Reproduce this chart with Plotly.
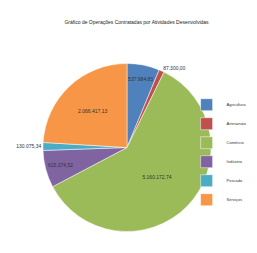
import plotly.graph_objects as go

categories = ["Agricultura", "Artesanato", "Comércio", "Indústria", "Pescado", "Serviços"]
values = [537984.83, 87300.00, 5160172.74, 615374.52, 130075.34, 2066417.13]
text_labels = ["537.984,83", "87.300,00", "5.160.172,74", "615.374,52", "130.075,34", "2.066.417,13"]
colors = ["#4F81BD", "#C0504D", "#9BBB59", "#8064A2", "#4BACC6", "#F79646"]
positions = ["inside", "outside", "inside", "inside", "outside", "inside"]

fig = go.Figure(go.Pie(
    labels=categories,
    values=values,
    text=text_labels,
    textinfo="text",
    textposition=positions,
    insidetextorientation="horizontal",
    sort=False,
    direction="clockwise",
    rotation=0,
    marker=dict(colors=colors, line=dict(color="white", width=0.5)),
    textfont=dict(family="Liberation Sans", size=5, color="#333333"),
    domain=dict(x=[0.136, 0.79], y=[0.107, 0.79]),
))

fig.update_layout(
    width=257, height=253,
    margin=dict(l=0, r=0, t=0, b=0, autoexpand=False),
    paper_bgcolor="white",
    title=dict(text="Gráfico de Operações Contratadas por Atividades Desenvolvidas",
               x=0.5, xanchor="center", y=0.945, yanchor="middle",
               font=dict(family="Liberation Sans", size=5, color="#222222")),
    legend=dict(x=0.695, y=0.43, xanchor="left", yanchor="middle",
                font=dict(family="Liberation Sans", size=4, color="#333333"),
                itemwidth=30, tracegroupgap=0, bgcolor="rgba(0,0,0,0)"),
    uniformtext=dict(minsize=4, mode="show"),
)

fig.write_html("out.html")
